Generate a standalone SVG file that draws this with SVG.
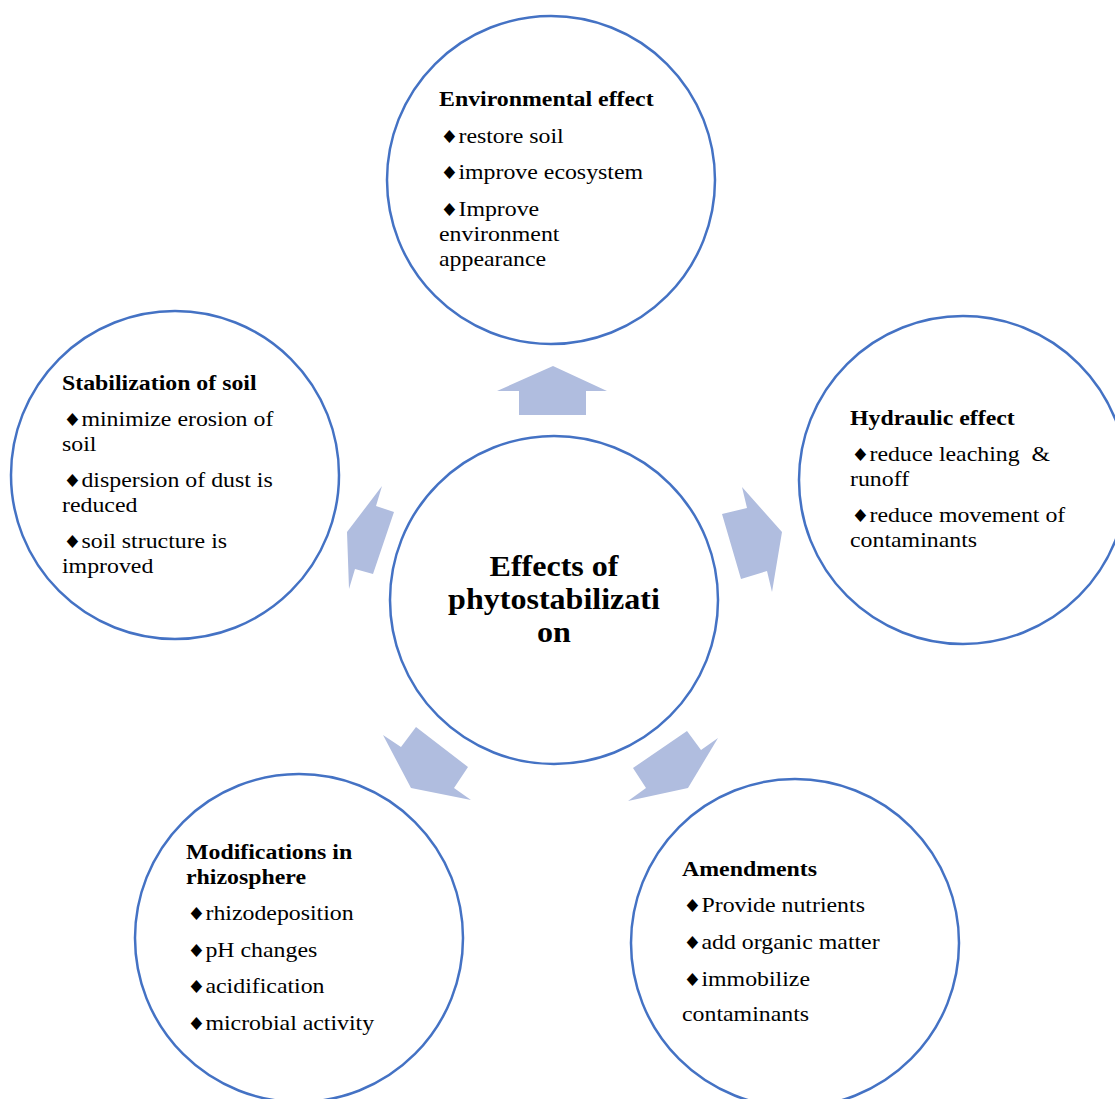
<svg xmlns="http://www.w3.org/2000/svg" width="1115" height="1099" viewBox="0 0 1115 1099">
<style>
.c{fill:#fff;stroke:#4472C4;stroke-width:2.5}
.a{fill:#B0BDDF}
text{font-family:"Liberation Serif","Times New Roman",serif;font-size:21px;fill:#000}
.t{font-weight:bold}
.ct{font-weight:bold;font-size:29px;text-anchor:middle}
.d{font-family:"DejaVu Sans",sans-serif;font-size:18px}
</style>
<rect width="1115" height="1099" fill="#fff"/>
<g id="connectors">
<polygon class="a" points="553,366 607,391 586,391 586,415 519,415 519,391 497,391"/>
<polygon class="a" points="382,486 376,506 394,512 373,574 355,569 349,589 347,532"/>
<polygon class="a" points="742,487 747,508 722,514 741,579 767,571 772,592 782,532"/>
<polygon class="a" points="383,735 401,747 416,727 468,767 454,788 471,800 411,788"/>
<polygon class="a" points="687,731 701,750 718,738 688,788 628,801 646,788 633,768"/>
</g>
<g id="node-top">
<circle class="c" cx="551" cy="180" r="164"/>
<g transform="translate(439,0) scale(1.135,1)">
<text class="t" x="0" y="106">Environmental effect</text>
<text x="1" y="143"><tspan class="d">♦</tspan>restore soil</text>
<text x="1" y="179"><tspan class="d">♦</tspan>improve ecosystem</text>
<text x="1" y="216"><tspan class="d">♦</tspan>Improve</text>
<text x="0" y="241">environment</text>
<text x="0" y="266">appearance</text>
</g>
</g>
<g id="node-left">
<circle class="c" cx="175" cy="475" r="164"/>
<g transform="translate(62,0) scale(1.135,1)">
<text class="t" x="0" y="390">Stabilization of soil</text>
<text x="1" y="426"><tspan class="d">♦</tspan>minimize erosion of</text>
<text x="0" y="451">soil</text>
<text x="1" y="487"><tspan class="d">♦</tspan>dispersion of dust is</text>
<text x="0" y="512">reduced</text>
<text x="1" y="548"><tspan class="d">♦</tspan>soil structure is</text>
<text x="0" y="573">improved</text>
</g>
</g>
<g id="node-right">
<circle class="c" cx="963" cy="480" r="164"/>
<g transform="translate(850,0) scale(1.135,1)">
<text class="t" x="0" y="425">Hydraulic effect</text>
<text x="1" y="461"><tspan class="d">♦</tspan>reduce leaching&#160; &amp;</text>
<text x="0" y="486">runoff</text>
<text x="1" y="522"><tspan class="d">♦</tspan>reduce movement of</text>
<text x="0" y="547">contaminants</text>
</g>
</g>
<g id="node-center">
<circle class="c" cx="554" cy="600" r="164"/>
<g transform="translate(554,0) scale(1.105,1)">
<text class="ct" x="0" y="576">Effects of</text>
<text class="ct" x="0" y="609">phytostabilizati</text>
<text class="ct" x="0" y="642">on</text>
</g>
</g>
<g id="node-bottom-left">
<circle class="c" cx="299" cy="938" r="164"/>
<g transform="translate(186,0) scale(1.135,1)">
<text class="t" x="0" y="859">Modifications in</text>
<text class="t" x="0" y="884">rhizosphere</text>
<text x="1" y="920"><tspan class="d">♦</tspan>rhizodeposition</text>
<text x="1" y="957"><tspan class="d">♦</tspan>pH changes</text>
<text x="1" y="993"><tspan class="d">♦</tspan>acidification</text>
<text x="1" y="1030"><tspan class="d">♦</tspan>microbial activity</text>
</g>
</g>
<g id="node-bottom-right">
<circle class="c" cx="795" cy="943" r="164"/>
<g transform="translate(682,0) scale(1.135,1)">
<text class="t" x="0" y="876">Amendments</text>
<text x="1" y="912"><tspan class="d">♦</tspan>Provide nutrients</text>
<text x="1" y="949"><tspan class="d">♦</tspan>add organic matter</text>
<text x="1" y="986"><tspan class="d">♦</tspan>immobilize</text>
<text x="0" y="1021">contaminants</text>
</g>
</g>
</svg>
